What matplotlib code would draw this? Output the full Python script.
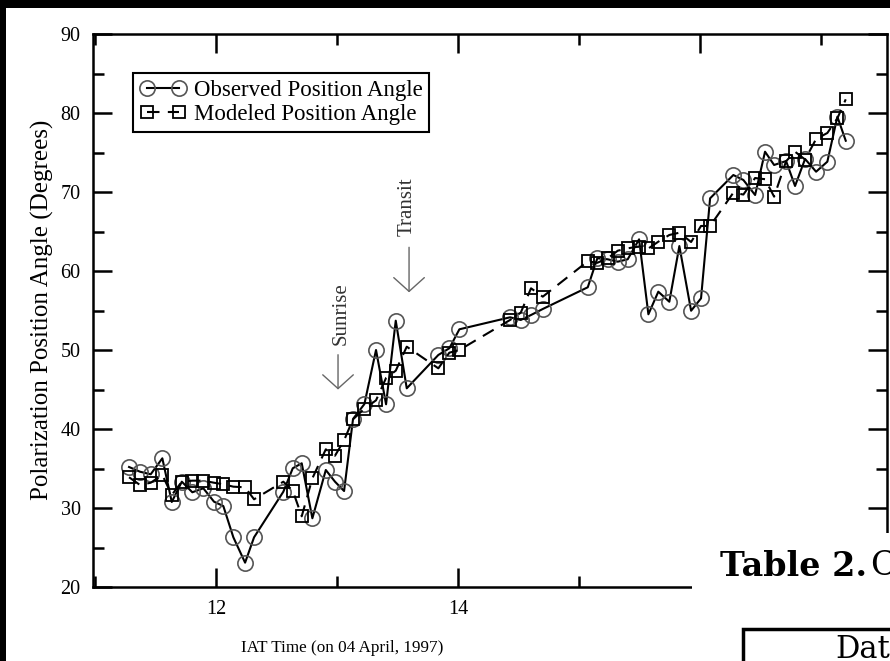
import matplotlib
matplotlib.use("Agg")
import matplotlib.pyplot as plt
from matplotlib.patches import Rectangle
from matplotlib.ticker import MultipleLocator

plt.rcParams['font.family'] = ['Liberation Serif', 'DejaVu Serif']

time_h = [11.281, 11.372, 11.460, 11.556, 11.634, 11.717, 11.804, 11.895, 11.983, 12.060,
          12.143, 12.240, 12.314, 12.556, 12.634, 12.708, 12.796, 12.907, 12.983, 13.058,
          13.132, 13.226, 13.322, 13.405, 13.485, 13.576, 13.837, 13.928, 14.011, 14.430,
          14.518, 14.603, 14.700, 15.072, 15.151, 15.237, 15.320, 15.402, 15.496, 15.573,
          15.655, 15.746, 15.829, 15.926, 16.008, 16.083, 16.275, 16.358, 16.455, 16.537,
          16.612, 16.711, 16.785, 16.868, 16.959, 17.052, 17.135, 17.204]

observed = [35.19, 34.59, 34.27, 36.29, 30.76, 33.33, 31.99, 32.49, 30.80, 30.25,
            26.29, 23.08, 26.29, 32.06, 35.03, 35.66, 28.70, 34.81, 33.33, 32.15,
            41.27, 43.16, 50.00, 43.13, 53.71, 45.15, 49.37, 50.22, 52.62, 54.14,
            53.80, 54.43, 55.19, 57.94, 61.61, 61.48, 61.18, 61.48, 64.01, 54.52,
            57.38, 56.11, 63.16, 54.97, 56.54, 69.20, 72.15, 71.52, 69.62, 75.10,
            73.42, 73.92, 70.76, 74.18, 72.57, 73.84, 79.53, 76.49]

modeled = [33.89, 32.91, 33.20, 34.18, 31.65, 33.33, 33.46, 33.46, 33.20, 33.00,
           32.70, 32.62, 31.10, 33.33, 32.19, 28.95, 33.76, 37.43, 36.62, 38.57,
           41.23, 42.56, 43.63, 46.46, 47.38, 50.42, 47.68, 49.66, 50.00, 53.80,
           54.72, 57.81, 56.75, 61.23, 61.04, 61.61, 62.57, 62.87, 63.10, 62.85,
           63.71, 64.56, 64.85, 63.67, 65.70, 65.70, 69.91, 69.68, 71.77, 71.62,
           69.41, 73.90, 75.10, 74.11, 76.71, 77.47, 79.33, 81.73]

x_ticks = [12, 14, 16]
y_ticks = [20, 30, 40, 50, 60, 70, 80, 90]

W, H = 890, 661
fig = plt.figure(figsize=(W / 100, H / 100), dpi=100, facecolor='black')
# white page area (black scan border on top/left)
fig.add_artist(Rectangle((6 / W, 0), 1, 1 - 8 / H, transform=fig.transFigure,
                         facecolor='white', edgecolor='none', zorder=0))

ax = fig.add_axes([93 / W, 1 - 587 / H, (887 - 93) / W, (587 - 34) / H])
ax.set_facecolor('white')

ax.plot(time_h, observed, '-', color='black', lw=1.5, marker='o', ms=11,
        mfc='none', mec='#555555', mew=1.2, label='Observed Position Angle', zorder=3)
ax.plot(time_h, modeled, '--', color='black', lw=1.5, dashes=(6, 4), marker='s', ms=9,
        mfc='none', mec='black', mew=1.3, label='Modeled Position Angle', zorder=4)

ax.set_xlim(10.983, 17.545)
ax.set_ylim(20, 90)
ax.set_xticks(x_ticks)
ax.xaxis.set_minor_locator(MultipleLocator(1))
ax.set_yticks(y_ticks)
ax.yaxis.set_minor_locator(MultipleLocator(5))
ax.tick_params(which='both', direction='in', top=True, right=True, width=1.8,
               labelsize=14.5, colors='black')
ax.tick_params(which='major', length=14, pad=9)
ax.tick_params(which='minor', length=8)
for s in ax.spines.values():
    s.set_linewidth(1.8)

leg = ax.legend(loc='upper left', bbox_to_anchor=((133 - 93) / 794, (587 - 73) / 553),
                numpoints=2, handlelength=2.0, fontsize=16.5, fancybox=False,
                edgecolor='black', framealpha=1, borderpad=0.3, labelspacing=0.15,
                handletextpad=0.35, borderaxespad=0)
leg.get_frame().set_linewidth(1.5)

arrow_style = '->, head_width=0.5, head_length=0.45'
ax.annotate('', xy=(13.008, 45.0), xytext=(13.008, 49.4),
            arrowprops=dict(arrowstyle=arrow_style, color='#666666', lw=1.0,
                            mutation_scale=22, shrinkA=0, shrinkB=0))
ax.text(13.03, 54.6, 'Sunrise', rotation=90, ha='center', va='center',
        fontsize=15, color='#333333')
ax.annotate('', xy=(13.595, 57.3), xytext=(13.595, 63.0),
            arrowprops=dict(arrowstyle=arrow_style, color='#666666', lw=1.0,
                            mutation_scale=22, shrinkA=0, shrinkB=0))
ax.text(13.58, 68.2, 'Transit', rotation=90, ha='center', va='center',
        fontsize=15, color='#333333')

fig.text(42 / W, 1 - 310 / H, 'Polarization Position Angle (Degrees)', rotation=90,
         ha='center', va='center', fontsize=18)
fig.text(342 / W, 1 - 648 / H, 'IAT Time (on 04 April, 1997)', ha='center',
         va='center', fontsize=12.3)

# overlapping page content (lower right)
fig.add_artist(Rectangle((692 / W, 0), 1, (H - 533) / H, transform=fig.transFigure,
                         facecolor='white', edgecolor='none', zorder=10))
fig.text(720 / W, 1 - 566 / H, 'Table 2.', fontsize=24, fontweight='bold',
         ha='left', va='center', zorder=11, family=['DejaVu Serif'])
fig.text(870 / W, 1 - 566 / H, 'C', fontsize=24, ha='left', va='center', zorder=11,
         family=['DejaVu Serif'])
fig.add_artist(Rectangle((743 / W, -0.1), 1, (H - 629) / H + 0.1,
                         transform=fig.transFigure, facecolor='white',
                         edgecolor='black', lw=2.5, zorder=11))
fig.text(835 / W, 1 - 650 / H, 'Dat', fontsize=22, ha='left', va='center', zorder=12,
         family=['DejaVu Serif'])

fig.savefig('out.png', dpi=100, facecolor=fig.get_facecolor())
